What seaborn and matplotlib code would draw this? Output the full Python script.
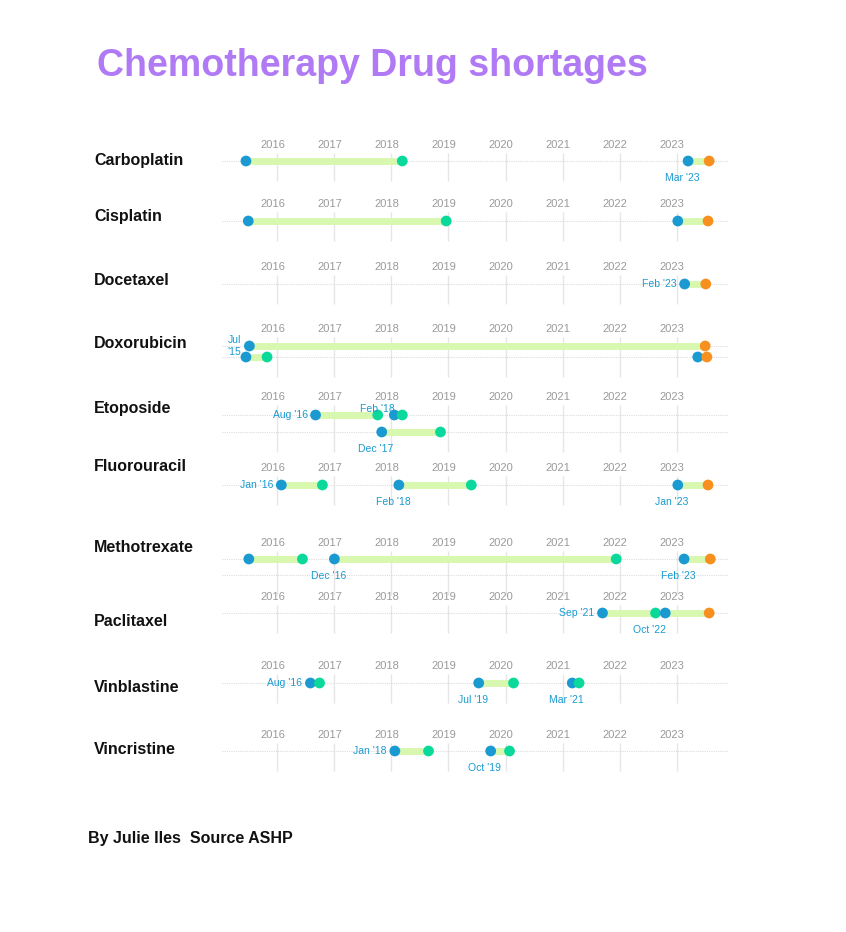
import pandas as pd
import matplotlib.pyplot as plt
import seaborn as sns

sns.set_theme(style="white")
plt.rcParams['font.family'] = ['Liberation Sans', 'DejaVu Sans']

# drug groups: name, y of tick labels, y of rows (layout, pixel units)
drugs = ['Carboplatin', 'Cisplatin', 'Docetaxel', 'Doxorubicin', 'Etoposide',
         'Fluorouracil', 'Methotrexate', 'Paclitaxel', 'Vinblastine', 'Vincristine']
name_y = [161, 217, 280, 344, 409, 467, 547, 621, 688, 749]
tick_y = [145, 204, 267, 329, 397, 468, 543, 597, 666, 735]
rows_y = [[161], [221], [284], [346, 357], [415, 432], [485], [559, 575], [613], [683], [751]]
years = list(range(2016, 2024))

# shortage periods: drug, row, start, end, ongoing
periods = [
    ('Carboplatin', 0, 2015.45, 2018.19, False),
    ('Carboplatin', 0, 2023.20, 2023.57, True),
    ('Cisplatin', 0, 2015.49, 2018.96, False),
    ('Cisplatin', 0, 2023.02, 2023.55, True),
    ('Docetaxel', 0, 2023.14, 2023.51, True),
    ('Doxorubicin', 0, 2015.51, 2023.50, True),
    ('Doxorubicin', 1, 2015.45, 2015.82, False),
    ('Doxorubicin', 1, 2023.37, 2023.53, True),
    ('Etoposide', 0, 2016.67, 2017.76, False),
    ('Etoposide', 0, 2018.05, 2018.19, False),
    ('Etoposide', 1, 2017.83, 2018.86, False),
    ('Fluorouracil', 0, 2016.07, 2016.79, False),
    ('Fluorouracil', 0, 2018.13, 2019.40, False),
    ('Fluorouracil', 0, 2023.02, 2023.55, True),
    ('Methotrexate', 0, 2015.50, 2016.44, False),
    ('Methotrexate', 0, 2017.00, 2021.94, False),
    ('Methotrexate', 0, 2023.13, 2023.59, True),
    ('Paclitaxel', 0, 2021.70, 2022.63, False),
    ('Paclitaxel', 0, 2022.80, 2023.57, True),
    ('Vinblastine', 0, 2016.58, 2016.74, False),
    ('Vinblastine', 0, 2019.53, 2020.14, False),
    ('Vinblastine', 0, 2021.17, 2021.29, False),
    ('Vincristine', 0, 2018.06, 2018.65, False),
    ('Vincristine', 0, 2019.74, 2020.07, False),
]

# date labels: drug, row, x, text, placement
labels = [
    ('Carboplatin', 0, 2023.20, "Mar '23", 'below'),
    ('Docetaxel', 0, 2023.14, "Feb '23", 'left'),
    ('Doxorubicin', 0, 2015.51, "Jul\n'15", 'left'),
    ('Etoposide', 0, 2016.67, "Aug '16", 'left'),
    ('Etoposide', 0, 2017.76, "Feb '18", 'above'),
    ('Etoposide', 1, 2017.83, "Dec '17", 'below'),
    ('Fluorouracil', 0, 2016.07, "Jan '16", 'left'),
    ('Fluorouracil', 0, 2018.13, "Feb '18", 'below'),
    ('Fluorouracil', 0, 2023.02, "Jan '23", 'below'),
    ('Methotrexate', 0, 2017.00, "Dec '16", 'below'),
    ('Methotrexate', 0, 2023.13, "Feb '23", 'below'),
    ('Paclitaxel', 0, 2021.70, "Sep '21", 'left'),
    ('Paclitaxel', 0, 2022.63, "Oct '22", 'below'),
    ('Vinblastine', 0, 2016.58, "Aug '16", 'left'),
    ('Vinblastine', 0, 2019.53, "Jul '19", 'below'),
    ('Vinblastine', 0, 2021.17, "Mar '21", 'below'),
    ('Vincristine', 0, 2018.06, "Jan '18", 'left'),
    ('Vincristine', 0, 2019.74, "Oct '19", 'below'),
]

BLUE, GREEN, ORANGE, BAR = '#1a9ad0', '#0bd99b', '#f7901e', '#d8f8b0'
GRID, TICK = '#e6e6e6', '#9a9a9a'

W, H = 846, 932
fig = plt.figure(figsize=(W / 100, H / 100), dpi=100)
x0, x1, y0, y1 = 222, 728, 130, 800
ax = fig.add_axes([x0 / W, 1 - y1 / H, (x1 - x0) / W, (y1 - y0) / H])
ax.set_xlim(2015.03, 2023.90)
ax.set_ylim(y1, y0)
ax.axis('off')

ypos = {d: r for d, r in zip(drugs, rows_y)}
for d, ty, rows in zip(drugs, tick_y, rows_y):
    ax.vlines(years, ty + 8, rows[-1] + 20, color=GRID, lw=1, zorder=0)
    for r in rows:
        ax.axhline(r, color='#dddddd', lw=0.8, ls=(0, (1, 1)), zorder=0)
    for yr in years:
        ax.text(yr - 0.08, ty, str(yr), ha='center', va='center', fontsize=8, color=TICK)

pts = []
for d, ri, s, e, ongoing in periods:
    y = ypos[d][ri]
    ax.hlines(y, s, e, color=BAR, lw=5, zorder=1)
    pts.append({'x': s, 'y': y, 'kind': 'start'})
    pts.append({'x': e, 'y': y, 'kind': 'ongoing' if ongoing else 'end'})
df = pd.DataFrame(pts)
sns.scatterplot(data=df, x='x', y='y', hue='kind', ax=ax, s=60, edgecolor='none',
                palette={'start': BLUE, 'end': GREEN, 'ongoing': ORANGE},
                legend=False, zorder=3, clip_on=False)

for d, ri, x, t, pl in labels:
    y = ypos[d][ri]
    if pl == 'left':
        ax.text(x - 0.14, y, t, ha='right', va='center', fontsize=7.5, color=BLUE)
    elif pl == 'below':
        ax.text(x - 0.1, y + 17, t, ha='center', va='center', fontsize=7.5, color=BLUE)
    else:
        ax.text(x, y - 6, t, ha='center', va='center', fontsize=7.5, color=BLUE)

for d, ny in zip(drugs, name_y):
    fig.text(94 / W, 1 - ny / H, d, ha='left', va='center', fontsize=11.5,
             fontweight='bold', color='#111111')

fig.text(97 / W, 1 - 66 / H, 'Chemotherapy Drug shortages', ha='left', va='center',
         fontsize=27, fontweight='bold', color='#b07af5')
fig.text(88 / W, 1 - 838 / H, 'By Julie Iles  Source ASHP', ha='left', va='center',
         fontsize=11.5, fontweight='bold', color='#111111')

fig.savefig('out.png', dpi=100)
